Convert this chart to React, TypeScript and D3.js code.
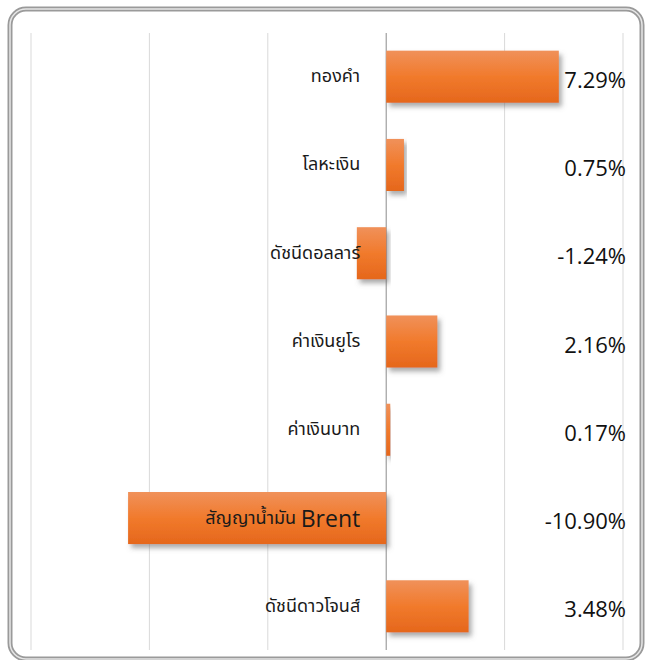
import React from "react";
import * as d3 from "d3";

const categories = ["ทองคำ", "โลหะเงิน", "ดัชนีดอลลาร์", "ค่าเงินยูโร", "ค่าเงินบาท", "สัญญาน้ำมัน Brent", "ดัชนีดาวโจนส์"];
const values = [7.29, 0.75, -1.24, 2.16, 0.17, -10.9, 3.48];
const gridTicks = [-15, -10, -5, 0, 5, 10];

const W = 650;
const H = 660;

export default function App() {
  const x = d3.scaleLinear().domain([-15, 10]).range([31, 623]);
  const y = d3.scaleBand<string>().domain(categories).range([33, 650]).paddingInner(0.41).paddingOuter(0.2);
  const top = 33;
  const bottom = 650;
  const thaiFont = "'Noto Sans Thai', Tahoma, 'Noto Sans', sans-serif";
  const fmt = (v: number) => d3.format(".2f")(v).replace("−", "-") + "%";
  return (
    <svg width={W} height={H} style={{ position: "absolute", left: 0, top: 0, background: "#fff" }}>
      <defs>
        <linearGradient id="barGrad" x1="0" y1="0" x2="0" y2="1">
          <stop offset="0%" stopColor="#f0915a" />
          <stop offset="50%" stopColor="#f17a2c" />
          <stop offset="100%" stopColor="#e5671c" />
        </linearGradient>
        <filter id="shadow" x="-10%" y="-20%" width="125%" height="160%">
          <feDropShadow dx="3" dy="4" stdDeviation="2.5" floodColor="#666" floodOpacity="0.55" />
        </filter>
      </defs>
      <rect x={10} y={9} width={632} height={650} rx={16} ry={16} fill="none" stroke="#9a9a9a" strokeWidth={5} />
      <rect x={10} y={9} width={632} height={650} rx={16} ry={16} fill="none" stroke="#e6e6e6" strokeWidth={1.5} />
      {gridTicks.map((t) => (
        <line key={t} x1={x(t)} x2={x(t)} y1={top} y2={bottom} stroke={t === 0 ? "#8c8c8c" : "#d9d9d9"} strokeWidth={1} />
      ))}
      {categories.map((c, i) => {
        const v = values[i];
        const x0 = x(Math.min(0, v));
        const x1 = x(Math.max(0, v));
        return (
          <rect key={c} x={x0} y={y(c)} width={x1 - x0} height={y.bandwidth()} fill="url(#barGrad)" filter="url(#shadow)" />
        );
      })}
      {categories.map((c) => (
        <text key={c} x={x(0) - 26} y={(y(c) as number) + y.bandwidth() / 2} textAnchor="end" dominantBaseline="central" fontFamily={thaiFont} fontSize={18} fill="#1a1a1a">
          {c.includes("Brent") ? (
            <>
              {"สัญญาน้ำมัน "}
              <tspan fontSize={23} fontFamily="'Open Sans', sans-serif">Brent</tspan>
            </>
          ) : c}
        </text>
      ))}
      {categories.map((c, i) => (
        <text key={c + "v"} x={626} y={(y(c) as number) + y.bandwidth() / 2 + 2} textAnchor="end" dominantBaseline="central" fontFamily="'Open Sans', sans-serif" fontSize={22} fill="#111">
          {fmt(values[i])}
        </text>
      ))}
    </svg>
  );
}
